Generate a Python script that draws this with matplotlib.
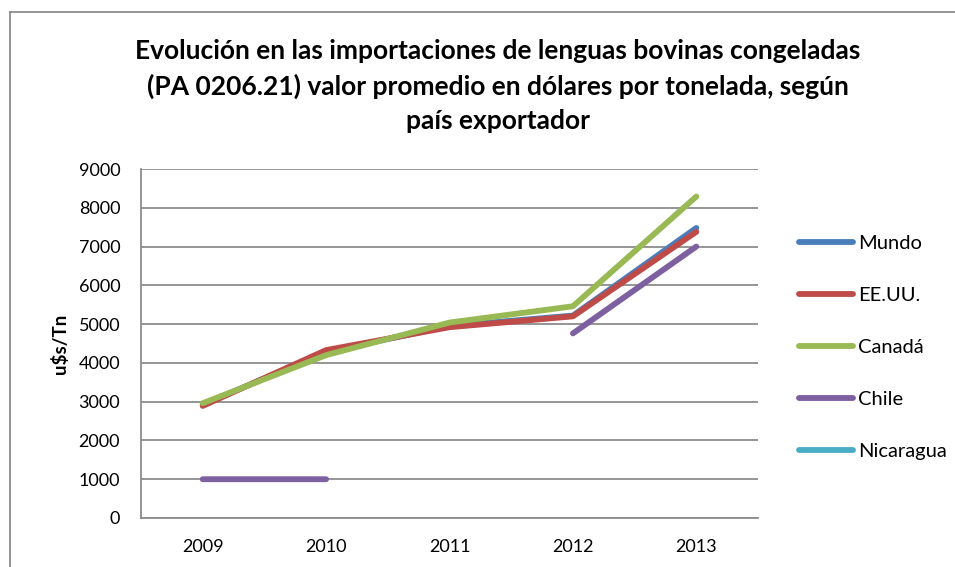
import numpy as np
import matplotlib
matplotlib.use("Agg")
import matplotlib.pyplot as plt
from matplotlib.lines import Line2D

plt.rcParams['font.family'] = ['Lato', 'DejaVu Sans']

years = ['2009', '2010', '2011', '2012', '2013']
series_names = ['Mundo', 'EE.UU.', 'Canadá', 'Chile', 'Nicaragua']
mundo = [2920, 4280, 4950, 5220, 7480]
eeuu = [2890, 4330, 4920, 5200, 7380]
canada = [2960, 4200, 5040, 5460, 8290]
chile = [1000, 1000, np.nan, 4760, 7000]
nicaragua = [np.nan, np.nan, np.nan, np.nan, np.nan]
colors = ['#4A7EBB', '#BE4B48', '#98B954', '#7D60A0', '#4BACC6']

title = ("Evolución en las importaciones de lenguas bovinas congeladas\n"
         "(PA 0206.21) valor promedio en dólares por tonelada, según\n"
         "país exportador")

fig = plt.figure(figsize=(9.55, 5.67), dpi=100)
ax = fig.add_axes([141 / 955, 1 - 518 / 567, (758 - 141) / 955, (518 - 169) / 567])

x = np.arange(len(years))
data = [mundo, eeuu, canada, chile, nicaragua]
for name, vals, c in zip(series_names, data, colors):
    ax.plot(x, vals, color=c, lw=4.2, solid_capstyle='round', solid_joinstyle='round', label=name)

ax.set_xlim(-0.5, len(years) - 0.5)
ax.set_ylim(0, 9000)
ax.set_yticks(range(0, 9001, 1000))
ax.set_xticks(x)
ax.set_xticklabels(years)
ax.yaxis.grid(True, color='#8C8C8C', lw=1.3)
ax.set_axisbelow(True)
for s in ['top', 'right']:
    ax.spines[s].set_visible(False)
for s in ['left', 'bottom']:
    ax.spines[s].set_color('#8C8C8C')
    ax.spines[s].set_linewidth(1.3)
ax.tick_params(axis='both', length=0, labelsize=13, colors='black')
ax.tick_params(axis='y', pad=15)
ax.tick_params(axis='x', pad=15)
ax.set_ylabel('u$s/Tn', fontsize=13.5, fontweight='bold', labelpad=7)

fig.text(498 / 955, 1 - 86 / 567, title, ha='center', va='center', fontsize=19,
         fontweight='bold', linespacing=1.52)

handles = [Line2D([], [], color=c, lw=4.2, solid_capstyle='round') for c in colors]
leg = fig.legend(handles, series_names, loc='upper left', bbox_to_anchor=(799 / 955, 1 - 235 / 567),
                 frameon=False, fontsize=14.5, handlelength=2.7, handletextpad=0.22,
                 labelspacing=1.73, borderpad=0, borderaxespad=0)

# chart frame
fig.add_artist(Line2D([10 / 955, 10 / 955], [0, 1 - 12 / 567], color='#8C8C8C', lw=1.3))
fig.add_artist(Line2D([10 / 955, 1], [1 - 12 / 567, 1 - 12 / 567], color='#8C8C8C', lw=1.3))

fig.savefig('out.png', dpi=100)
